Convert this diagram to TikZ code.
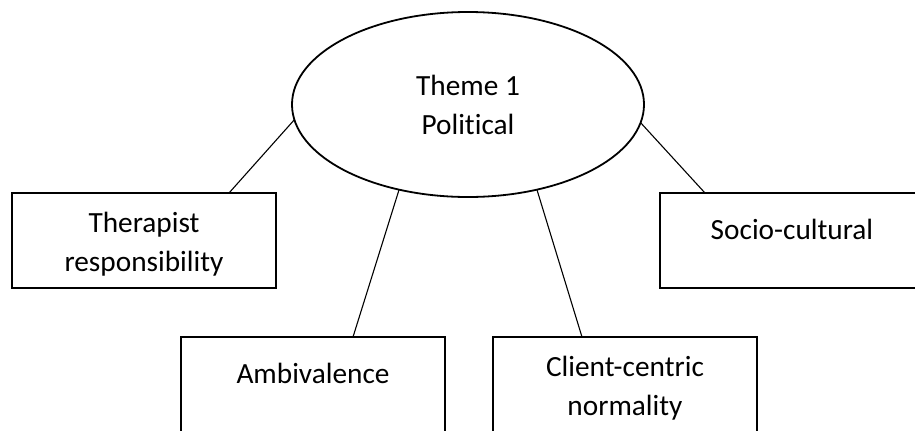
\documentclass[tikz,border=0pt]{standalone}
\usepackage{fontspec}
\setmainfont[Ligatures=NoCommon]{Carlito}
\usetikzlibrary{shapes.geometric}
\newcommand{\topstrut}{\rule{0pt}{28bp}}
\begin{document}
\begin{tikzpicture}[x=1bp,y=-1bp,
  every node/.style={font=\fontsize{29.3bp}{39bp}\selectfont, inner sep=0pt, outer sep=0pt, align=center},
  theme/.style={ellipse, draw, line width=1.8bp, minimum width=352bp, minimum height=185bp},
  topic/.style={rectangle, draw, line width=1.6bp, minimum width=264bp, minimum height=95bp},
  oneline/.style={text height=20bp, text depth=22bp},
  link/.style={line width=1.1bp}]
\useasboundingbox (0,0) rectangle (915,430);
\clip (0,0) rectangle (915,430);

% central theme
\node[theme] (theme) at (468,104.5) {Theme 1\\Political};

% sub-themes
\node[topic] (therapist) at (144,240.5) {\topstrut Therapist\\responsibility};
\node[topic, oneline] (socio) at (792,240.5) {Socio-cultural};
\node[topic, oneline] (ambiv) at (313,384.5) {Ambivalence};
\node[topic] (client) at (625,384.5) {\topstrut Client-centric\\normality};

% links from the theme to each sub-theme
\draw[link] (theme.185) -- ([xshift=85bp]therapist.north);
\draw[link] (theme.354) -- ([xshift=-87bp]socio.north);
\draw[link] (theme.231) -- ([xshift=40bp]ambiv.north);
\draw[link] (theme.309.5) -- ([xshift=-43bp]client.north);
\end{tikzpicture}
\end{document}
